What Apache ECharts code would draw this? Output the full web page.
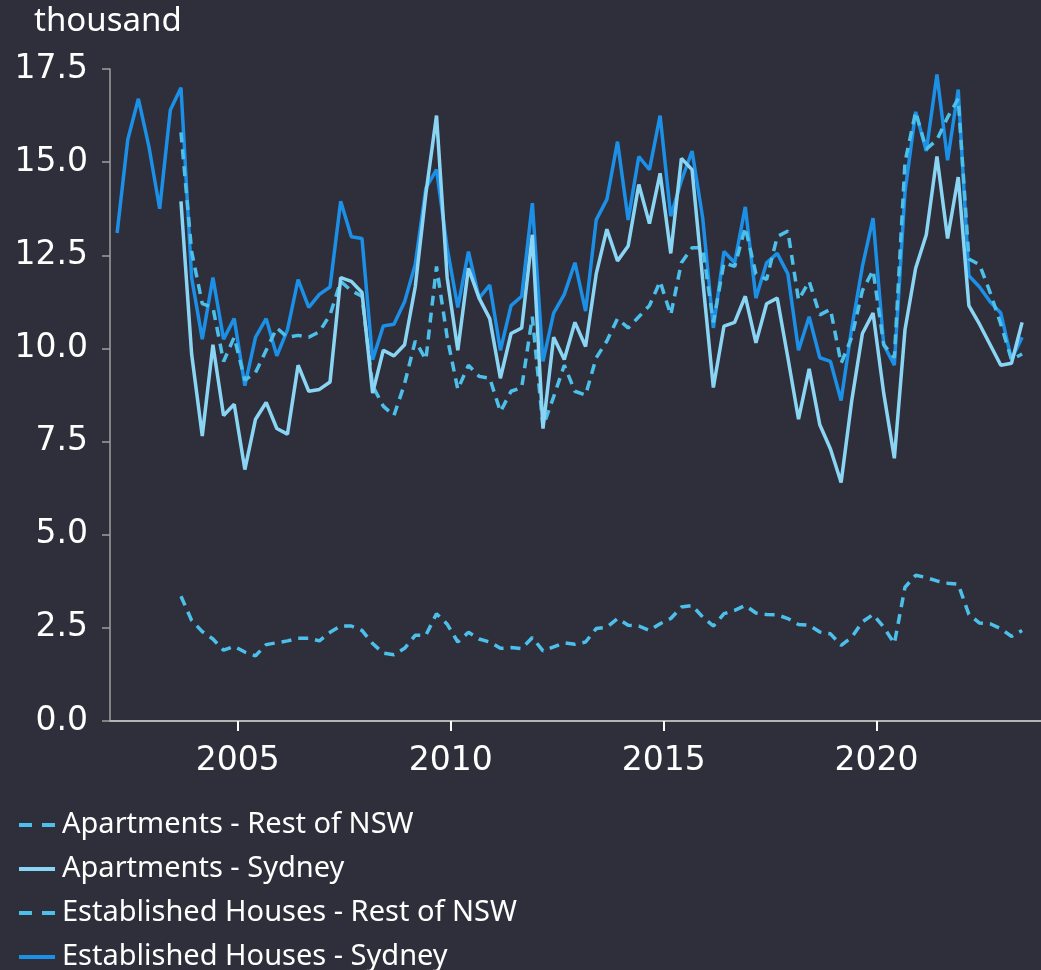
<!DOCTYPE html>
<html>
<head>
<meta charset="utf-8">
<script src="https://cdn.jsdelivr.net/npm/echarts@6.0.0/dist/echarts.min.js"></script>
<style>
  html, body { margin: 0; padding: 0; background: #2e2f3a; }
  #chart { width: 1041px; height: 970px; }
</style>
</head>
<body>
<div id="chart"></div>
<script>
// quarterly observations (first month of quarter-end)
const quarters = [
  '2002-03', '2002-06', '2002-09', '2002-12', '2003-03', '2003-06', '2003-09', '2003-12',
  '2004-03', '2004-06', '2004-09', '2004-12', '2005-03', '2005-06', '2005-09', '2005-12',
  '2006-03', '2006-06', '2006-09', '2006-12', '2007-03', '2007-06', '2007-09', '2007-12',
  '2008-03', '2008-06', '2008-09', '2008-12', '2009-03', '2009-06', '2009-09', '2009-12',
  '2010-03', '2010-06', '2010-09', '2010-12', '2011-03', '2011-06', '2011-09', '2011-12',
  '2012-03', '2012-06', '2012-09', '2012-12', '2013-03', '2013-06', '2013-09', '2013-12',
  '2014-03', '2014-06', '2014-09', '2014-12', '2015-03', '2015-06', '2015-09', '2015-12',
  '2016-03', '2016-06', '2016-09', '2016-12', '2017-03', '2017-06', '2017-09', '2017-12',
  '2018-03', '2018-06', '2018-09', '2018-12', '2019-03', '2019-06', '2019-09', '2019-12',
  '2020-03', '2020-06', '2020-09', '2020-12', '2021-03', '2021-06', '2021-09', '2021-12',
  '2022-03', '2022-06', '2022-09', '2022-12', '2023-03', '2023-06'
];

// thousand
const aptRest = [
  null, null, null, null, null, null, 3.35, 2.7,
  2.4, 2.2, 1.9, 2.0, 1.85, 1.75, 2.05, 2.1,
  2.15, 2.22, 2.22, 2.15, 2.38, 2.55, 2.55, 2.43,
  2.08, 1.82, 1.78, 1.95, 2.3, 2.3, 2.88, 2.6,
  2.12, 2.38, 2.2, 2.12, 1.95, 1.97, 1.94, 2.24,
  1.88, 1.99, 2.1, 2.06, 2.12, 2.48, 2.52, 2.75,
  2.57, 2.55, 2.43, 2.61, 2.75, 3.06, 3.1, 2.79,
  2.55, 2.88, 2.97, 3.1, 2.9, 2.86, 2.85, 2.75,
  2.59, 2.57, 2.39, 2.34, 2.03, 2.25, 2.66, 2.86,
  2.52, 2.08, 3.59, 3.91, 3.85, 3.76, 3.7, 3.67,
  2.86, 2.63, 2.61, 2.48, 2.27, 2.43
];

const aptSydney = [
  null, null, null, null, null, null, 13.95, 9.85,
  7.65, 10.1, 8.2, 8.5, 6.75, 8.1, 8.55, 7.85,
  7.7, 9.55, 8.85, 8.9, 9.1, 11.9, 11.8, 11.5,
  8.8, 9.95, 9.8, 10.1, 11.65, 14.15, 16.25, 11.9,
  9.95, 12.15, 11.35, 10.8, 9.2, 10.4, 10.55, 13.05,
  7.85, 10.3, 9.7, 10.7, 10.05, 12.0, 13.2, 12.35,
  12.75, 14.4, 13.35, 14.7, 12.55, 15.1, 14.8, 11.85,
  8.95, 10.6, 10.7, 11.4, 10.15, 11.2, 11.35, 9.75,
  8.1, 9.45, 7.95, 7.3, 6.4, 8.6, 10.4, 10.95,
  8.8, 7.05, 10.5, 12.15, 13.05, 15.15, 12.95, 14.6,
  11.15, 10.65, 10.1, 9.55, 9.6, 10.7
];

const estHousesRest = [
  null, null, null, null, null, null, 15.8, 12.6,
  11.2, 11.1, 9.65, 10.3, 9.15, 9.35, 9.95, 10.55,
  10.3, 10.35, 10.3, 10.45, 10.9, 11.8, 11.55, 11.4,
  9.0, 8.45, 8.2, 9.05, 10.2, 9.7, 12.2, 10.3,
  8.9, 9.55, 9.25, 9.2, 8.3, 8.85, 8.95, 10.85,
  7.9, 8.7, 9.55, 8.85, 8.75, 9.75, 10.2, 10.8,
  10.55, 10.85, 11.15, 11.8, 10.9, 12.3, 12.7, 12.7,
  10.7, 12.3, 12.2, 13.25, 12.0, 11.85, 13.0, 13.15,
  11.3, 11.8, 10.9, 11.05, 9.6, 10.3, 11.55, 12.1,
  10.1, 9.75, 15.0, 16.35, 15.35, 15.6, 16.2, 16.7,
  12.4, 12.25, 11.5, 10.65, 9.7, 9.85
];

const estHousesSydney = [
  13.1, 15.6, 16.7, 15.4, 13.75, 16.4, 17.0, 11.9,
  10.25, 11.9, 10.25, 10.8, 9.0, 10.3, 10.8, 9.8,
  10.5, 11.85, 11.1, 11.45, 11.65, 13.95, 13.0, 12.95,
  9.7, 10.6, 10.65, 11.25, 12.25, 14.3, 14.8, 12.7,
  11.1, 12.6, 11.35, 11.7, 9.95, 11.15, 11.4, 13.9,
  9.65, 10.95, 11.45, 12.3, 11.0, 13.45, 14.0, 15.55,
  13.45, 15.15, 14.8, 16.25, 13.55, 14.5, 15.3, 13.5,
  10.55, 12.6, 12.3, 13.8, 11.35, 12.3, 12.55, 12.0,
  9.95, 10.85, 9.75, 9.65, 8.6, 10.55, 12.2, 13.5,
  10.1, 9.55, 14.2, 16.35, 15.3, 17.35, 15.05, 16.95,
  11.95, 11.65, 11.25, 10.95, 9.7, 10.3
];

const xTickYears = [2005, 2010, 2015, 2020];

const TEXT_FONT = 'Noto Sans';
const NUM_FONT = 'DejaVu Sans';
const DASHED = '#4cc0ea';
const LIGHT = '#8bd5f4';
const DARK = '#1c8fe6';

// 'YYYY-MM' -> fractional year, so the x axis is a plain value axis
const toYear = q => {
  const [y, m] = q.split('-').map(Number);
  return y + (m - 1) / 12;
};
const toPairs = arr => quarters.map((q, i) => [toYear(q), arr[i]]);

const chart = echarts.init(document.getElementById('chart'));

function lineSeries(name, values, color, dashed) {
  return {
    name: name,
    type: 'line',
    data: toPairs(values),
    showSymbol: false,
    symbol: 'none',
    connectNulls: false,
    lineStyle: { color: color, width: 3.5, type: dashed ? [10, 7] : 'solid' },
    itemStyle: { color: color }
  };
}

const option = {
  backgroundColor: '#2e2f3a',
  animation: false,
  title: {
    text: 'thousand',
    left: 34,
    top: 5,
    padding: 0,
    textStyle: { color: '#ffffff', fontFamily: TEXT_FONT, fontSize: 33, fontWeight: 'normal' }
  },
  legend: {
    orient: 'vertical',
    left: 17,
    top: 810,
    height: 200,
    padding: 0,
    itemWidth: 36,
    itemHeight: 14,
    itemGap: 14,
    // hide the marker that line series put in the middle of the legend line
    itemStyle: { color: 'transparent', borderColor: 'transparent', borderWidth: 0 },
    textStyle: { color: '#ffffff', fontFamily: TEXT_FONT, fontSize: 29, lineHeight: 30, padding: [0, 0, 0, 2] },
    data: [
      { name: 'Apartments - Rest of NSW', lineStyle: { width: 4, type: [13, 10] } },
      { name: 'Apartments - Sydney', lineStyle: { width: 4 } },
      { name: 'Established Houses - Rest of NSW', lineStyle: { width: 4, type: [13, 10] } },
      { name: 'Established Houses - Sydney', lineStyle: { width: 4 } }
    ]
  },
  grid: { left: 110, right: 0, top: 69, bottom: 249 },
  xAxis: {
    type: 'value',
    min: 2002,
    max: 2023.86,
    splitLine: { show: false },
    axisLine: { lineStyle: { color: '#b4b4b4', width: 2 } },
    axisTick: { show: true, length: 10, lineStyle: { color: '#ffffff', width: 2 }, customValues: xTickYears },
    axisLabel: {
      color: '#ffffff', fontFamily: NUM_FONT, fontSize: 33, margin: 24,
      customValues: xTickYears,
      formatter: v => String(v)
    }
  },
  yAxis: {
    type: 'value',
    min: 0,
    max: 17.5,
    interval: 2.5,
    splitLine: { show: false },
    axisLine: { show: true, lineStyle: { color: '#a0a0a0', width: 1.5 } },
    axisTick: { show: true, length: 8, lineStyle: { color: '#a0a0a0', width: 1.5 } },
    axisLabel: {
      color: '#ffffff', fontFamily: NUM_FONT, fontSize: 33, margin: 22,
      formatter: v => v.toFixed(1)
    }
  },
  series: [
    lineSeries('Established Houses - Sydney', estHousesSydney, DARK, false),
    lineSeries('Established Houses - Rest of NSW', estHousesRest, DASHED, true),
    lineSeries('Apartments - Sydney', aptSydney, LIGHT, false),
    lineSeries('Apartments - Rest of NSW', aptRest, DASHED, true)
  ]
};

chart.setOption(option);
</script>
</body>
</html>
